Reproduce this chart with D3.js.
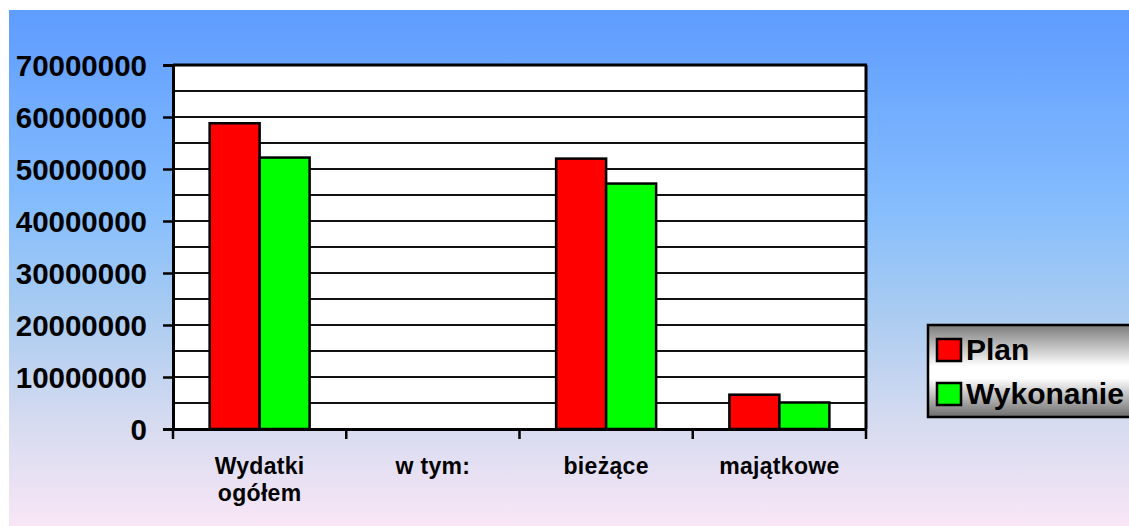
<!DOCTYPE html>
<html>
<head>
<meta charset="utf-8">
<script src="https://cdn.jsdelivr.net/npm/d3@7"></script>
<style>
  html, body { margin: 0; padding: 0; background: #ffffff; }
  svg { display: block; font-family: Arial, "Liberation Sans", sans-serif; }
</style>
</head>
<body>
<svg id="chart" width="1129" height="526"></svg>
<script>
const categories = [["Wydatki", "ogółem"], ["w tym:"], ["bieżące"], ["majątkowe"]];
const categoryKeys = ["Wydatki ogółem", "w tym:", "bieżące", "majątkowe"];
const seriesNames = ["Plan", "Wykonanie"];
const planValues = [58800000, null, 52000000, 6600000];
const wykonanieValues = [52200000, null, 47200000, 5100000];
const yTicks = [0, 10000000, 20000000, 30000000, 40000000, 50000000, 60000000, 70000000];
const yGrid = [5000000, 10000000, 15000000, 20000000, 25000000, 30000000, 35000000, 40000000, 45000000, 50000000, 55000000, 60000000, 65000000];
const colors = ["#ff0000", "#00ff00"];

(function () {
const svg = d3.select("#chart");
const defs = svg.append("defs");

const bg = defs.append("linearGradient").attr("id", "bg").attr("x1", 0).attr("y1", 0).attr("x2", 0).attr("y2", 1);
[["0%", "#5e9cff"], ["38%", "#85bdfd"], ["58%", "#a8cbf1"], ["80%", "#d6dbf0"], ["100%", "#f8e6f6"]]
  .forEach(([o, c]) => bg.append("stop").attr("offset", o).attr("stop-color", c));

const lg = defs.append("linearGradient").attr("id", "lg").attr("x1", 0).attr("y1", 0).attr("x2", 0).attr("y2", 1);
[["0%", "#7c7c7c"], ["45%", "#ffffff"], ["58%", "#ffffff"], ["100%", "#6c6c6c"]]
  .forEach(([o, c]) => lg.append("stop").attr("offset", o).attr("stop-color", c));

svg.append("rect").attr("x", 9).attr("y", 10).attr("width", 1120).attr("height", 516).attr("fill", "url(#bg)");

const pLeft = 173, pRight = 866, pTop = 65, pBottom = 429;

const y = d3.scaleLinear().domain([0, 70000000]).range([pBottom, pTop]);
const x0 = d3.scaleBand().domain(categoryKeys).range([pLeft, pRight]).paddingInner(0).paddingOuter(0);
const x1 = d3.scaleBand().domain(seriesNames).range([0, x0.bandwidth()]).paddingInner(0).paddingOuter(0.7325);

// plot area
svg.append("rect").attr("x", pLeft).attr("y", pTop).attr("width", pRight - pLeft).attr("height", pBottom - pTop).attr("fill", "#ffffff");

// gridlines
svg.append("g").selectAll("line").data(yGrid).join("line")
  .attr("x1", pLeft).attr("x2", pRight)
  .attr("y1", d => y(d)).attr("y2", d => y(d))
  .attr("stroke", "#111").attr("stroke-width", 2);

// top & right border
svg.append("line").attr("x1", pLeft).attr("x2", pRight + 1).attr("y1", pTop).attr("y2", pTop).attr("stroke", "#000").attr("stroke-width", 3);
svg.append("line").attr("x1", pRight).attr("x2", pRight).attr("y1", pTop).attr("y2", pBottom).attr("stroke", "#000").attr("stroke-width", 3);

// bars
const rows = categoryKeys.map((k, i) => ({ key: k, vals: [planValues[i], wykonanieValues[i]] }));
const g = svg.append("g");
rows.forEach(r => {
  r.vals.forEach((v, j) => {
    if (v == null) return;
    g.append("rect")
      .attr("x", x0(r.key) + x1(seriesNames[j]))
      .attr("y", y(v))
      .attr("width", x1.bandwidth())
      .attr("height", y(0) - y(v))
      .attr("fill", colors[j])
      .attr("stroke", "#000")
      .attr("stroke-width", 2.5);
  });
});

// y axis
const yAxis = d3.axisLeft(y).tickValues(yTicks).tickFormat(d3.format("d")).tickSize(10).tickPadding(16);
const ya = svg.append("g").attr("transform", `translate(${pLeft},0)`).call(yAxis);
ya.select(".domain").attr("stroke", "#000").attr("stroke-width", 3);
ya.selectAll(".tick line").attr("stroke", "#000").attr("stroke-width", 2.5);
ya.selectAll(".tick text").attr("fill", "#000").attr("font-size", 29.5).attr("font-weight", "bold")
  .attr("font-family", "Arial, 'Liberation Sans', sans-serif").attr("dy", "0.36em");

// x axis
const xAxis = d3.axisBottom(x0).tickSize(0).tickFormat("");
const xa = svg.append("g").attr("transform", `translate(0,${pBottom})`).call(xAxis);
xa.select(".domain").attr("stroke", "#000").attr("stroke-width", 3);
const boundaries = categoryKeys.map(k => x0(k)).concat([pRight]);
xa.selectAll(".bnd").data(boundaries).join("line").attr("class", "bnd")
  .attr("x1", d => d).attr("x2", d => d).attr("y1", 0).attr("y2", 10)
  .attr("stroke", "#000").attr("stroke-width", 2.5);

// x labels
svg.append("g").selectAll("text").data(categories).join("text")
  .attr("x", (d, i) => x0(categoryKeys[i]) + x0.bandwidth() / 2)
  .attr("y", 474)
  .attr("text-anchor", "middle")
  .attr("font-size", 23).attr("font-weight", "bold").attr("fill", "#000")
  .attr("letter-spacing", "0.3px")
  .each(function(d) {
    const t = d3.select(this);
    const xx = t.attr("x");
    d.forEach((line, li) => {
      t.append("tspan").attr("x", xx).attr("dy", li === 0 ? 0 : 27).text(line);
    });
  });

// legend
const leg = svg.append("g");
leg.append("rect").attr("x", 928).attr("y", 325).attr("width", 215).attr("height", 92)
  .attr("fill", "url(#lg)").attr("stroke", "#000").attr("stroke-width", 2.5);
seriesNames.forEach((s, i) => {
  leg.append("rect").attr("x", 937).attr("y", 339 + i * 44).attr("width", 24).attr("height", 22)
    .attr("fill", colors[i]).attr("stroke", "#000").attr("stroke-width", 2.5);
  leg.append("text").attr("x", 966).attr("y", 360 + i * 43.5)
    .attr("font-size", 30).attr("font-weight", "bold").attr("fill", "#000").text(s);
});
})();
</script>
</body>
</html>
